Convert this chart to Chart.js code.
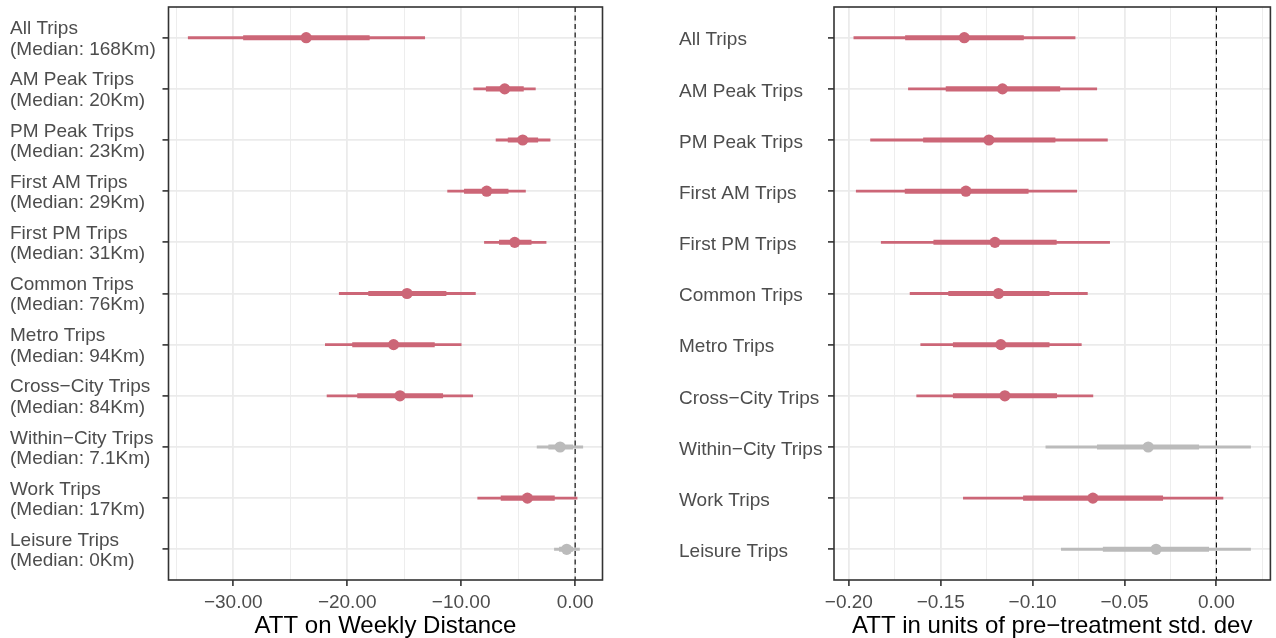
<!DOCTYPE html>
<html>
<head>
<meta charset="utf-8">
<script src="https://cdn.jsdelivr.net/npm/chart.js@4.4.1/dist/chart.umd.min.js"></script>
<style>
  html, body { margin: 0; padding: 0; background: #ffffff; }
  #wrap { position: relative; width: 1276px; height: 638px; overflow: hidden; }
  canvas { position: absolute; top: 0; }
</style>
</head>
<body>
<div id="wrap">
  <canvas id="left" width="618" height="638" style="left:0px"></canvas>
  <canvas id="right" width="658" height="638" style="left:618px"></canvas>
</div>
<script>
// ---------- data ----------
const categoriesLeft = [
  ['All Trips', '(Median: 168Km)'],
  ['AM Peak Trips', '(Median: 20Km)'],
  ['PM Peak Trips', '(Median: 23Km)'],
  ['First AM Trips', '(Median: 29Km)'],
  ['First PM Trips', '(Median: 31Km)'],
  ['Common Trips', '(Median: 76Km)'],
  ['Metro Trips', '(Median: 94Km)'],
  ['Cross\u2212City Trips', '(Median: 84Km)'],
  ['Within\u2212City Trips', '(Median: 7.1Km)'],
  ['Work Trips', '(Median: 17Km)'],
  ['Leisure Trips', '(Median: 0Km)']
];
const categoriesRight = [
  'All Trips', 'AM Peak Trips', 'PM Peak Trips', 'First AM Trips', 'First PM Trips',
  'Common Trips', 'Metro Trips', 'Cross\u2212City Trips', 'Within\u2212City Trips',
  'Work Trips', 'Leisure Trips'
];
const significant = [true, true, true, true, true, true, true, true, false, true, false];

// ATT on weekly distance
const distEst  = [-23.6, -6.18, -4.6, -7.76, -5.3, -14.75, -15.93, -15.37, -1.32, -4.19, -0.74];
const distLo95 = [-33.95, -8.9, -6.94, -11.19, -7.96, -20.7, -21.92, -21.77, -3.34, -8.55, -1.82];
const distHi95 = [-13.2, -3.49, -2.2, -4.36, -2.55, -8.75, -10.0, -8.99, 0.67, 0.17, 0.38];
const distLo90 = [-29.1, -7.8, -5.88, -9.72, -6.65, -18.12, -19.53, -19.09, -2.32, -6.5, -1.38];
const distHi90 = [-18.06, -4.54, -3.28, -5.88, -3.86, -11.33, -12.35, -11.62, -0.21, -1.82, -0.21];

// ATT in units of pre-treatment std. dev
const sdEst  = [-0.1372, -0.1164, -0.1238, -0.1363, -0.1205, -0.1186, -0.1173, -0.1151, -0.0371, -0.0672, -0.0328];
const sdLo95 = [-0.1973, -0.1676, -0.1882, -0.196, -0.1824, -0.1667, -0.1609, -0.1631, -0.0928, -0.1377, -0.0844];
const sdHi95 = [-0.0769, -0.0651, -0.0593, -0.076, -0.0581, -0.0702, -0.0735, -0.0672, 0.0186, 0.0036, 0.0186];
const sdLo90 = [-0.1692, -0.1471, -0.1594, -0.1694, -0.1538, -0.1457, -0.1432, -0.1432, -0.0648, -0.105, -0.0616];
const sdHi90 = [-0.105, -0.0852, -0.0878, -0.1024, -0.0871, -0.091, -0.091, -0.0869, -0.0096, -0.0292, -0.0042];

// axis settings
const distRange = [-35.68, 2.4];
const distMinorStep = 5, distMajorStep = 10;
const sdRange = [-0.2081, 0.0294];
const sdMinorStep = 0.025, sdMajorStep = 0.05;

const RED = '#cc6677';
const GREY = '#bbbbbb';
const FONT = "'Liberation Sans', Arial, Helvetica, sans-serif";

function colors() { return significant.map(s => s ? RED : GREY); }
function isMajor(v, step) { const r = v / step; return Math.abs(r - Math.round(r)) < 1e-6; }
function fmt(v) { const s = Math.abs(v) < 1e-9 ? '0.00' : v.toFixed(2); return s.replace('-', '\u2212'); }

const frame = {
  id: 'frame',
  afterDatasetsDraw(chart) {
    const {ctx, chartArea: a, scales: {x}} = chart;
    const x0 = x.getPixelForValue(0);
    ctx.save();
    ctx.strokeStyle = '#000000';
    ctx.lineWidth = 1.1;
    ctx.setLineDash([5, 3.5]);
    ctx.beginPath();
    ctx.moveTo(x0, a.top);
    ctx.lineTo(x0, a.bottom);
    ctx.stroke();
    ctx.restore();
  },
  afterDraw(chart) {
    const {ctx, chartArea: a} = chart;
    ctx.save();
    ctx.strokeStyle = '#333333';
    ctx.lineWidth = 1.6;
    ctx.strokeRect(a.left, a.top, a.right - a.left, a.bottom - a.top);
    ctx.restore();
  }
};

function makeChart(id, labels, est, lo95, hi95, lo90, hi90, range, minorStep, majorStep, title, pad, yWidth, yLabelOffset) {
  const c = colors();
  const idx = labels.map((_, i) => i + 1);
  return new Chart(document.getElementById(id), {
    type: 'bar',
    data: {
      datasets: [
        {
          type: 'scatter',
          data: est.map((v, i) => ({x: v, y: idx[i]})),
          backgroundColor: c,
          borderWidth: 0,
          pointRadius: 5.6,
          pointHoverRadius: 5.6,
          order: 0
        },
        {
          data: lo90.map((v, i) => ({x: [v, hi90[i]], y: idx[i]})),
          backgroundColor: c,
          barThickness: 4.4,
          grouped: false,
          borderWidth: 0,
          order: 1
        },
        {
          data: lo95.map((v, i) => ({x: [v, hi95[i]], y: idx[i]})),
          backgroundColor: c,
          barThickness: 2.2,
          grouped: false,
          borderWidth: 0,
          order: 2
        }
      ]
    },
    options: {
      indexAxis: 'y',
      responsive: false,
      animation: false,
      events: [],
      layout: { padding: pad },
      plugins: { legend: { display: false }, tooltip: { enabled: false } },
      scales: {
        x: {
          type: 'linear',
          min: range[0],
          max: range[1],
          offset: false,
          border: { display: false },
          grid: {
            color: '#ebebeb',
            lineWidth: ctx => (ctx.tick && isMajor(ctx.tick.value, majorStep)) ? 1.8 : 0.9,
            tickLength: 6,
            tickWidth: 1.6,
            tickColor: ctx => (ctx.tick && isMajor(ctx.tick.value, majorStep)) ? '#333333' : 'rgba(0,0,0,0)'
          },
          ticks: {
            stepSize: minorStep,
            includeBounds: false,
            autoSkip: false,
            maxRotation: 0,
            padding: 5,
            color: '#4d4d4d',
            font: { family: FONT, size: 19 },
            callback: v => isMajor(v, majorStep) ? fmt(v) : ''
          },
          title: {
            display: true,
            text: title,
            color: '#000000',
            font: { family: FONT, size: 24, lineHeight: 1.0 },
            padding: { top: 0, bottom: 0 }
          },
          afterFit: s => { s.height = 58; s.paddingLeft = 0; s.paddingRight = 0; }
        },
        y: {
          type: 'linear',
          min: 0.4,
          max: 11.6,
          reverse: true,
          offset: false,
          border: { display: false },
          grid: {
            offset: false,
            color: '#ebebeb',
            lineWidth: 1.8,
            tickLength: 6,
            tickWidth: 1.6,
            tickColor: '#333333'
          },
          ticks: {
            stepSize: 1,
            includeBounds: false,
            autoSkip: false,
            crossAlign: 'far',
            padding: 4,
            labelOffset: yLabelOffset,
            color: '#4d4d4d',
            font: { family: FONT, size: 19, lineHeight: 1.07 },
            callback: v => labels[Math.round(v) - 1]
          },
          afterFit: s => { s.width = yWidth; s.paddingTop = 0; s.paddingBottom = 0; }
        }
      }
    },
    plugins: [frame]
  });
}

makeChart('left', categoriesLeft, distEst, distLo95, distHi95, distLo90, distHi90,
  distRange, distMinorStep, distMajorStep, 'ATT on Weekly Distance',
  { left: 10, right: 15.5, top: 7, bottom: 0 }, 158.5, 1.5);

makeChart('right', categoriesRight, sdEst, sdLo95, sdHi95, sdLo90, sdHi90,
  sdRange, sdMinorStep, sdMajorStep, 'ATT in units of pre\u2212treatment std. dev',
  { left: 61, right: 4, top: 7, bottom: 0 }, 155, 2.5);
</script>
</body>
</html>
